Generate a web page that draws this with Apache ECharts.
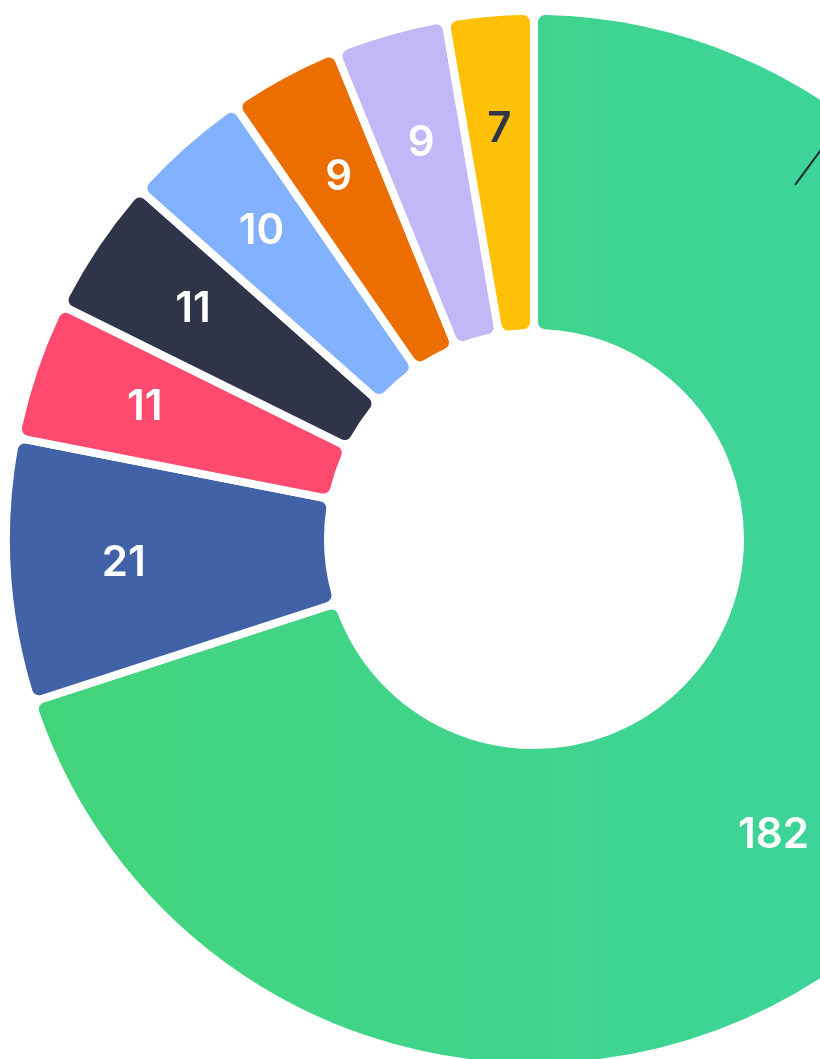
<!DOCTYPE html>
<html>
<head>
<meta charset="utf-8">
<script src="https://cdn.jsdelivr.net/npm/echarts@6/dist/echarts.min.js"></script>
<style>
  html, body { margin: 0; padding: 0; background: #ffffff; }
  #chart { width: 820px; height: 1059px; }
</style>
</head>
<body>
<div id="chart"></div>
<script>
// ---- data ----
const categories = ['Segment A', 'Segment B', 'Segment C', 'Segment D', 'Segment E', 'Segment F', 'Segment G', 'Segment H'];
const values = [182, 21, 11, 11, 10, 9, 9, 7];

// ---- styles ----
const palette = [
  { type: 'linear', x: 0, y: 0, x2: 1, y2: 0,
    colorStops: [{ offset: 0, color: '#43D47A' }, { offset: 1, color: '#3AD4A2' }] },
  '#4262A8', '#FF4A6F', '#2F3449', '#82B1FF', '#EC6D00', '#C3B8F7', '#FFC107'
];
const labelColors = ['#ffffff', '#ffffff', '#ffffff', '#ffffff', '#ffffff', '#ffffff', '#ffffff', '#2F3449'];

const CENTER = [534, 539];
const BORDER = 8;

const chart = echarts.init(document.getElementById('chart'), null, { renderer: 'canvas' });

const baseData = categories.map((name, i) => ({ name: name, value: values[i] }));

const option = {
  backgroundColor: '#ffffff',
  animation: false,
  series: [
    {
      type: 'pie',
      z: 2,
      center: CENTER,
      radius: [210 - BORDER / 2, 524 + BORDER / 2],
      startAngle: 90,
      clockwise: true,
      silent: true,
      label: { show: false },
      labelLine: { show: false },
      itemStyle: { borderRadius: 11, borderColor: '#ffffff', borderWidth: BORDER },
      data: baseData.map((d, i) => ({ ...d, itemStyle: { color: palette[i] } }))
    },
    {
      type: 'pie',
      z: 3,
      center: CENTER,
      radius: [295, 521],
      startAngle: 90,
      clockwise: true,
      silent: true,
      itemStyle: { color: 'rgba(0,0,0,0)' },
      labelLine: { show: false },
      label: {
        show: true,
        position: 'inside',
        formatter: '{c}',
        fontFamily: 'Inter',
        fontWeight: 600,
        fontSize: 42
      },
      labelLayout: function (p) {
        if (p.dataIndex === 0) return { dx: -93, dy: 55 };
        return {};
      },
      data: baseData.map((d, i) => ({ ...d, label: { color: labelColors[i] } }))
    }
  ],
  graphic: [
    {
      type: 'line',
      silent: true,
      z: 100,
      shape: (function () {
        const a = 36.4 * Math.PI / 180;
        return {
          x1: CENTER[0] + 440 * Math.sin(a), y1: CENTER[1] - 440 * Math.cos(a),
          x2: CENTER[0] + 510 * Math.sin(a), y2: CENTER[1] - 510 * Math.cos(a)
        };
      })(),
      style: { stroke: '#1f2430', lineWidth: 2 }
    }
  ]
};

chart.setOption(option);
</script>
</body>
</html>
